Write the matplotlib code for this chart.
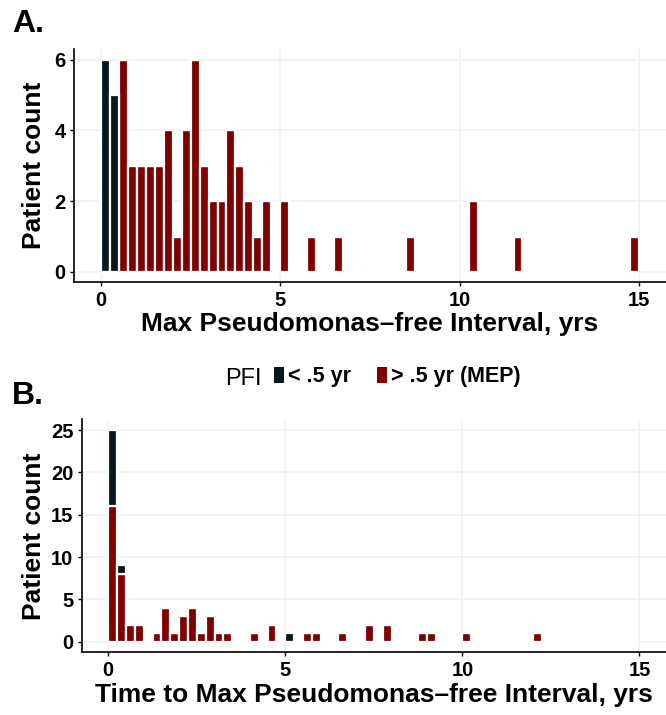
import matplotlib
matplotlib.use('Agg')
import matplotlib.pyplot as plt
from matplotlib.patches import Patch
import numpy as np

DARK = '#08171c'
RED = '#800000'
GRID = '#eef2f2'

BIN_WIDTH = 0.25
N_BINS = 60  # bins cover 0 to 15 yrs

# A: max pseudomonas-free interval (bin centre, patient count)
a_dark_x = [0.125, 0.375]
a_dark_n = [6, 5]
a_red_x = [0.625, 0.875, 1.125, 1.375, 1.625, 1.875, 2.125, 2.375, 2.625, 2.875,
           3.125, 3.375, 3.625, 3.875, 4.125, 4.375, 4.625, 5.125, 5.875, 6.625,
           8.625, 10.375, 11.625, 14.875]
a_red_n = [6, 3, 3, 3, 3, 4, 1, 4, 6, 3, 2, 2, 4, 3, 2, 1, 2, 2, 1, 1, 1, 2, 1, 1]

# B: time to max pseudomonas-free interval
b_dark_x = [0.125, 0.375, 5.125]
b_dark_n = [9, 1, 1]
b_red_x = [0.125, 0.375, 0.625, 0.875, 1.375, 1.625, 1.875, 2.125, 2.375, 2.625,
           2.875, 3.125, 3.375, 4.125, 4.625, 5.625, 5.875, 6.625, 7.375, 7.875,
           8.875, 9.125, 10.125, 12.125]
b_red_n = [16, 8, 2, 2, 1, 4, 1, 3, 4, 1, 3, 1, 1, 1, 2, 1, 1, 1, 2, 2, 1, 1, 1, 1]

x_ticks = [0, 5, 10, 15]
a_y_ticks = [0, 2, 4, 6]
b_y_ticks = [0, 5, 10, 15, 20, 25]

legend_labels = ['< .5 yr', '> .5 yr (MEP)']

plt.rcParams['font.family'] = ['Liberation Sans', 'DejaVu Sans']


def binCounts(xs, ns):
    counts = np.zeros(N_BINS)
    idx = (np.array(xs) / BIN_WIDTH).astype(int)
    counts[idx] = ns
    return counts


def drawHist(ax, red_x, red_n, dark_x, dark_n):
    centres = (np.arange(N_BINS) + 0.5) * BIN_WIDTH
    red = binCounts(red_x, red_n)
    dark = binCounts(dark_x, dark_n)
    ax.bar(centres, red, width=BIN_WIDTH, color=RED, edgecolor='white', linewidth=1.6, zorder=2)
    ax.bar(centres, dark, width=BIN_WIDTH, bottom=red, color=DARK, edgecolor='white', linewidth=1.6, zorder=2)
    return (red + dark).max()


def styleAxis(ax, yticks, ymax, xlabel):
    ax.set_xlim(-0.75, 15.75)
    ax.set_ylim(-0.05 * ymax, 1.05 * ymax)
    ax.set_xticks(x_ticks)
    ax.set_yticks(yticks)
    ax.grid(True, color=GRID, linewidth=1.2)
    ax.set_axisbelow(True)
    for s in ['top', 'right']:
        ax.spines[s].set_visible(False)
    for s in ['left', 'bottom']:
        ax.spines[s].set_linewidth(1.2)
    ax.tick_params(length=3, width=1, pad=3, labelsize=14.5)
    for lab in ax.get_xticklabels() + ax.get_yticklabels():
        lab.set_fontweight('bold')
    ax.set_xlabel(xlabel, fontsize=19, fontweight='bold')
    ax.set_ylabel('Patient count', fontsize=19, fontweight='bold')


fig = plt.figure(figsize=(6.66, 7.15), dpi=100)

axA = fig.add_axes([0.1111, 0.6049, 0.8889, 0.3266])
ymaxA = drawHist(axA, a_red_x, a_red_n, a_dark_x, a_dark_n)
styleAxis(axA, a_y_ticks, ymaxA, 'Max Pseudomonas\u2013free Interval, yrs')
axA.xaxis.set_label_coords(0.5, -0.125)
axA.yaxis.set_label_coords(-0.047, 0.5)

axB = fig.add_axes([0.1227, 0.0877, 0.8773, 0.3257])
ymaxB = drawHist(axB, b_red_x, b_red_n, b_dark_x, b_dark_n)
styleAxis(axB, b_y_ticks, ymaxB, 'Time to Max Pseudomonas\u2013free Interval, yrs')
axB.xaxis.set_label_coords(0.5, -0.131)
axB.yaxis.set_label_coords(-0.061, 0.5)

fig.text(12 / 666, 1 - 32 / 715, 'A.', fontsize=23, fontweight='bold', va='baseline')
fig.text(12 / 666, 1 - 404 / 715, 'B.', fontsize=23, fontweight='bold', va='baseline')

fig.text(225 / 666, 1 - 385 / 715, 'PFI', fontsize=17, va='baseline')
handles = [Patch(facecolor=DARK), Patch(facecolor=RED)]
fig.legend(handles, legend_labels, loc='center left', bbox_to_anchor=(274 / 666, 1 - 377 / 715),
           ncol=2, frameon=False, borderpad=0, borderaxespad=0, handlelength=0.45,
           handleheight=0.75, handletextpad=0.2, columnspacing=1.2,
           prop={'size': 15.5, 'weight': 'bold'})

fig.savefig('out.png', dpi=100)
